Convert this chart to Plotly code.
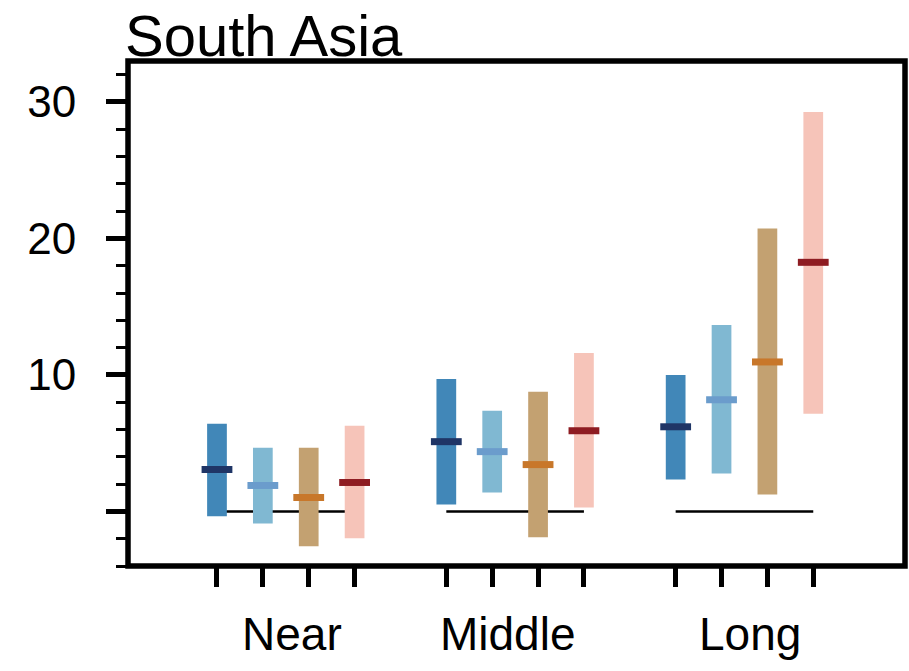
import plotly.graph_objects as go

# ---- data ----
periods = ["Near", "Middle", "Long"]
period_label_x = [2.64, 7.35, 12.63]
# bar positions: four scenarios per period
pos_s1 = [1, 6, 11]
pos_s2 = [2, 7, 12]
pos_s3 = [3, 8, 13]
pos_s4 = [4, 9, 14]

low_s1 = [-0.36, 0.51, 2.34]
high_s1 = [6.42, 9.71, 10.0]
med_s1 = [3.07, 5.11, 6.20]

low_s2 = [-0.88, 1.39, 2.77]
high_s2 = [4.67, 7.37, 13.65]
med_s2 = [1.90, 4.38, 8.18]

low_s3 = [-2.55, -1.90, 1.24]
high_s3 = [4.67, 8.76, 20.73]
med_s3 = [1.02, 3.43, 10.95]

low_s4 = [-1.97, 0.29, 7.15]
high_s4 = [6.28, 11.61, 29.27]
med_s4 = [2.12, 5.91, 18.25]

ytick_vals = [0, 10, 20, 30]
ytick_text = ["", "10", "20", "30"]

bar_colors = ["#4187b8", "#80b8d2", "#c3a171", "#f6c4b9"]
med_colors = ["#1f3566", "#6b9ccc", "#c8772a", "#8e1c22"]

FONT = "Liberation Sans, Arial, Helvetica, sans-serif"

fig = go.Figure()

series = [
    (pos_s1, low_s1, high_s1, med_s1),
    (pos_s2, low_s2, high_s2, med_s2),
    (pos_s3, low_s3, high_s3, med_s3),
    (pos_s4, low_s4, high_s4, med_s4),
]

for i, (pos, lo, hi, med) in enumerate(series):
    fig.add_trace(go.Bar(
        x=pos, base=lo, y=[h - l for h, l in zip(hi, lo)],
        width=0.43, marker=dict(color=bar_colors[i], line=dict(width=0)),
        showlegend=False, hoverinfo="skip",
    ))
for i, (pos, lo, hi, med) in enumerate(series):
    fig.add_trace(go.Scatter(
        x=pos, y=med, mode="markers",
        marker=dict(symbol="line-ew", size=22,
                    line=dict(width=7, color=med_colors[i])),
        showlegend=False, hoverinfo="skip",
    ))

# zero reference lines per period (behind bars)
for g in range(len(periods)):
    fig.add_shape(type="line", xref="x", yref="y",
                  x0=pos_s1[g], x1=pos_s4[g], y0=0, y1=0,
                  line=dict(color="black", width=2.5), layer="below")

# frame
fig.add_shape(type="rect", xref="paper", yref="paper", x0=0, x1=1, y0=0, y1=1,
              line=dict(color="black", width=5.5), layer="above")

# period labels
for lab, xl in zip(periods, period_label_x):
    fig.add_annotation(x=xl, y=-0.135, xref="x", yref="paper", text=lab,
                       showarrow=False, xanchor="center", yanchor="middle",
                       font=dict(family=FONT, size=46, color="black"))

# title
fig.add_annotation(x=-0.006, y=1.0, xref="paper", yref="paper", text="South Asia",
                   showarrow=False, xanchor="left", yanchor="bottom", yshift=-9,
                   font=dict(family=FONT, size=58, color="black"))

fig.update_layout(
    width=909, height=671,
    margin=dict(l=128, r=4, t=61, b=105, pad=0),
    paper_bgcolor="white", plot_bgcolor="white",
    barmode="overlay",
    showlegend=False,
    xaxis=dict(range=[-0.94, 16.0], tickvals=pos_s1 + pos_s2 + pos_s3 + pos_s4,
               showticklabels=False, ticks="outside", ticklen=20, tickwidth=5,
               tickcolor="black", showgrid=False, zeroline=False, showline=False),
    yaxis=dict(range=[-4, 33], tickvals=ytick_vals, ticktext=ytick_text,
               ticks="outside", ticklen=21, tickwidth=5, tickcolor="black",
               minor=dict(dtick=2, tick0=0, ticks="outside", ticklen=11,
                          tickwidth=3, tickcolor="black", showgrid=False),
               ticklabelstandoff=21,
               tickfont=dict(family=FONT, size=44, color="black"),
               showgrid=False, zeroline=False, showline=False),
)

fig.write_html("out.html")
